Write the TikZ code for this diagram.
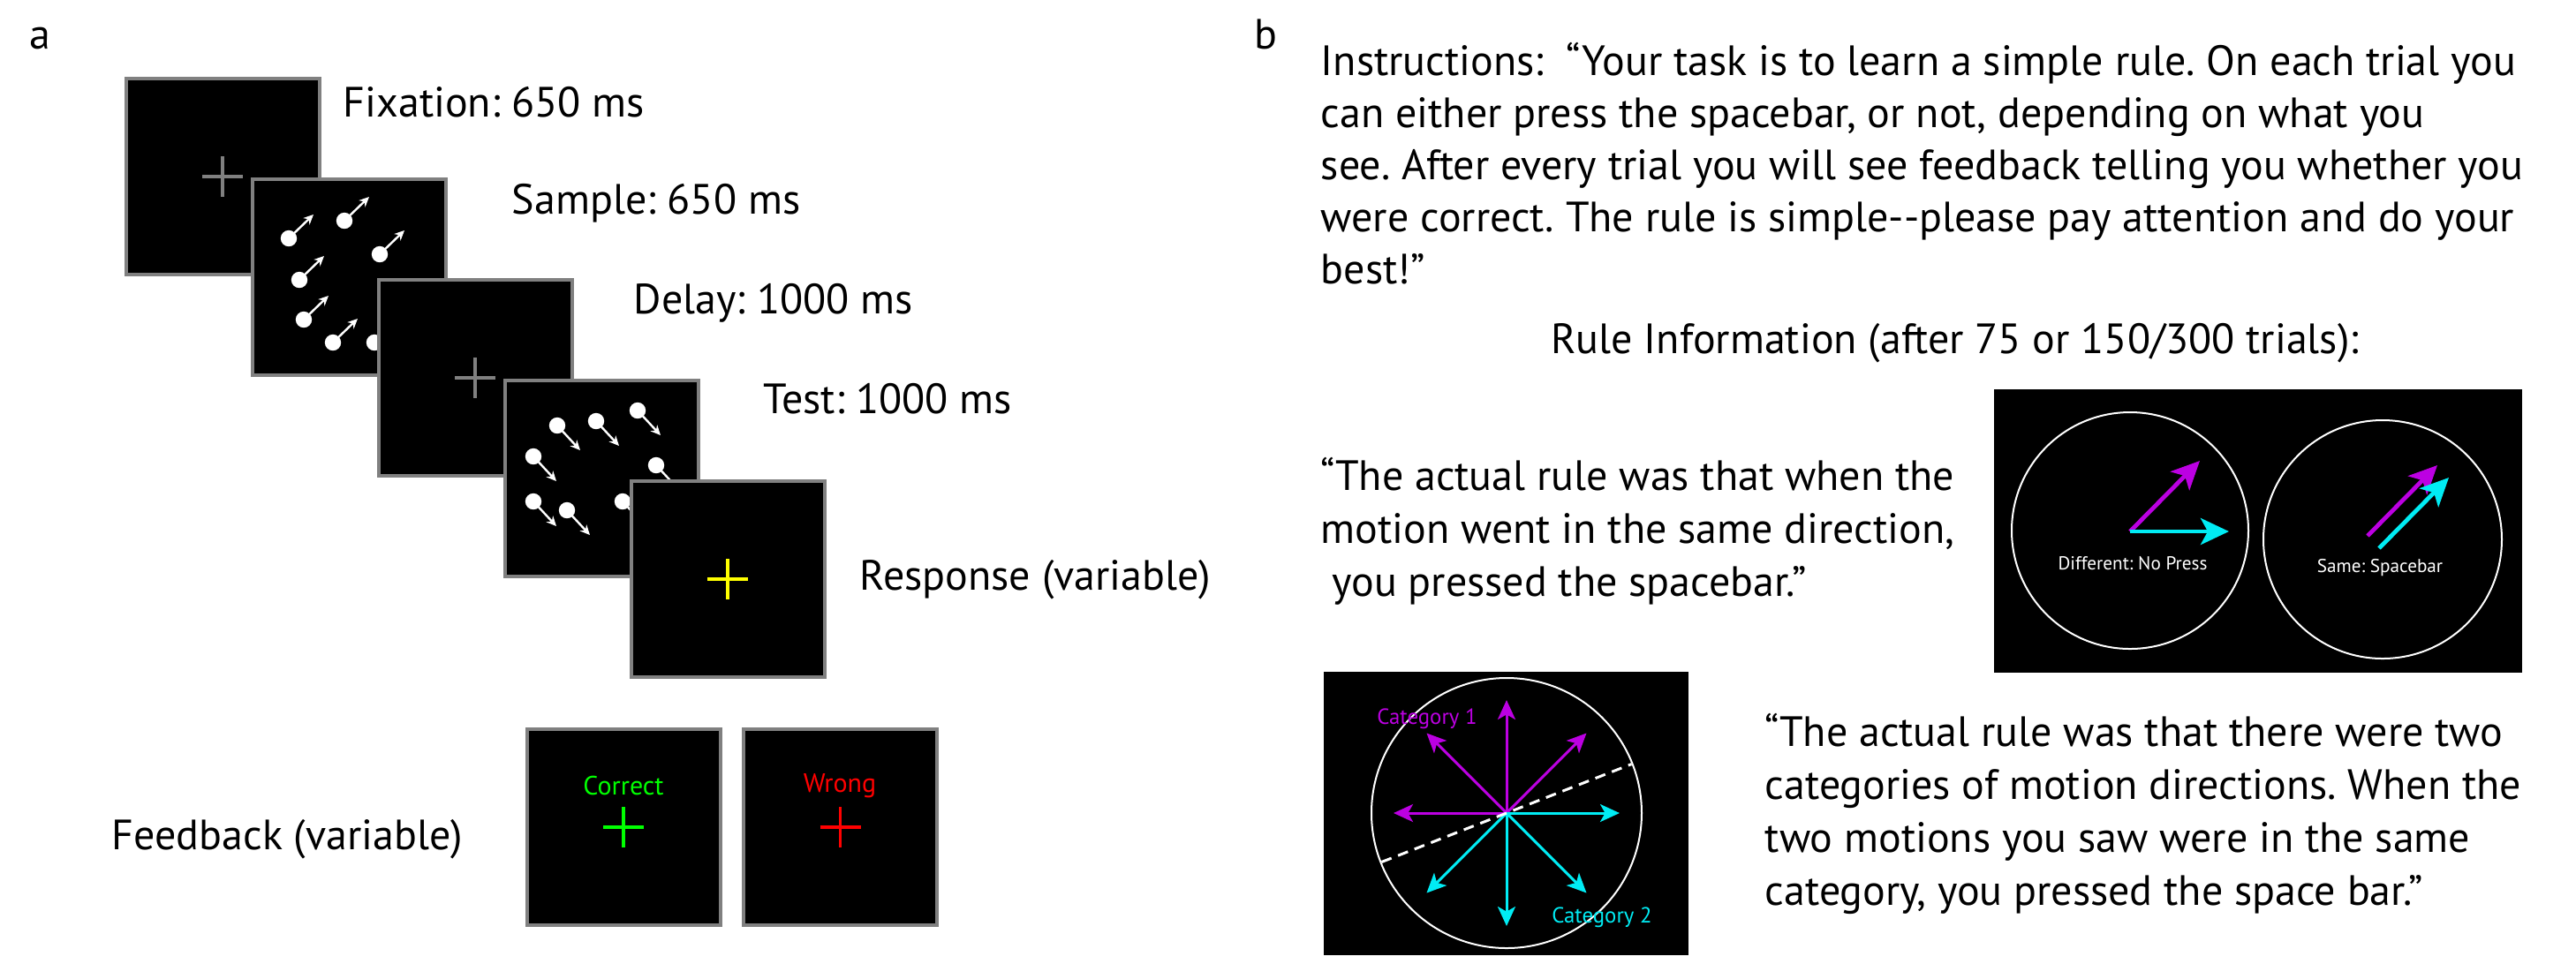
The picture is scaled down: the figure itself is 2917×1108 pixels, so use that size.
\documentclass[tikz,border=0pt]{standalone}
\usepackage{fontspec}
\setmainfont{PT Sans}
\usepackage{tikz}
\usetikzlibrary{positioning,arrows.meta}
\frenchspacing

\definecolor{framegray}{HTML}{808080}
\definecolor{catpurple}{HTML}{BC00E2}
\definecolor{catcyan}{HTML}{00ECF4}
\definecolor{fbgreen}{HTML}{00FF00}
\definecolor{fbred}{HTML}{FF0000}
\definecolor{fbyellow}{HTML}{FFFF00}

\begin{document}
\begin{tikzpicture}[x=0.25pt,y=-0.25pt,>=stealth,node distance=28.5pt and 35.75pt,on grid]
\tikzstyle{screen}=[draw=framegray,fill=black,line width=1pt,minimum width=54.75pt,minimum height=55.5pt,inner sep=0pt]
\tikzstyle{blackbox}=[fill=black,inner sep=0pt]
\tikzstyle{timing}=[anchor=base west,inner sep=0pt,font=\fontsize{12}{14.75}\selectfont]
% multi-line text: base anchor sits on the last line
\tikzstyle{bodytext}=[anchor=base west,inner sep=0pt,align=left,font=\fontsize{12}{15}\selectfont]
\tikzstyle{fixcross}=[line width=0.9pt]
\tikzstyle{movdot}=[white,line width=0.6pt,-{Stealth[length=2.8pt,width=2.6pt]}]
\tikzstyle{dirarrow}=[line width=0.75pt,-{Stealth[length=5.5pt,width=5pt,inset=1.4pt]}]
\tikzstyle{bigarrow}=[line width=1.2pt,-{Stealth[length=8pt,width=7.5pt,inset=2pt]}]
\tikzstyle{ring}=[draw=white,line width=0.5pt]
\tikzstyle{smalltext}=[text=white,inner sep=0pt,font=\fontsize{5.3}{6}\selectfont]
\tikzstyle{cattext}=[inner sep=0pt,font=\fontsize{6.2}{7}\selectfont]
\tikzstyle{fbtext}=[inner sep=0pt,font=\fontsize{7.5}{9}\selectfont]

\useasboundingbox (0,0) rectangle (2917,1108);

% a: trial sequence
\node[timing] (la) at (33,55) {a};

\node[screen] (fix) at (252,200) {};
\draw[fixcross,framegray] (fix.center) +(-23,0) -- +(23,0) +(0,-23) -- +(0,23);
\node[timing] (lfix) at (388,132) {Fixation: 650 ms};

\node[screen,below right=of fix] (sample) {};
\foreach \u/\v in {327/270,390/250,430/288,339/317,344/362,377/388,424/388}
  {\fill[white] (\u,\v) circle (2.3pt); \draw[movdot] (\u,\v) -- ++(28,-27);}
\node[timing] (lsample) at (579,242) {Sample: 650 ms};

\node[screen,below right=of sample] (delay) {};
\draw[fixcross,framegray] (delay.center) +(-23,0) -- +(23,0) +(0,-23) -- +(0,23);
\node[timing] (ldelay) at (717,355) {Delay: 1000 ms};

\node[screen,below right=of delay] (test) {};
\foreach \u/\v in {631/482,675/477,722/465,604/517,743/527,604/568,642/578,705/568}
  {\fill[white] (\u,\v) circle (2.3pt); \draw[movdot] (\u,\v) -- ++(26,28);}
\node[timing] (ltest) at (864,468) {Test: 1000 ms};

\node[screen,below right=of test] (resp) {};
\draw[fixcross,fbyellow] (resp.center) +(-23,0) -- +(23,0) +(0,-23) -- +(0,23);
\node[timing] (lresp) at (973,668) {Response (variable)};

% feedback
\node[timing] (lfb) at (126,962) {Feedback (variable)};
\node[screen] (correct) at (706,937) {};
\node[screen,right=61.4pt of correct] (wrong) {};
\node[fbtext,text=fbgreen] (tcorrect) at (706,890) {Correct};
\draw[fixcross,fbgreen] (correct.center) +(-23,0) -- +(23,0) +(0,-23) -- +(0,23);
\node[fbtext,text=fbred] (twrong) at (951,890) {Wrong};
\draw[fixcross,fbred] (wrong.center) +(-23,0) -- +(23,0) +(0,-23) -- +(0,23);

% b: instructions
\node[timing] (lb) at (1420,55) {b};
\node[bodytext,font=\fontsize{12}{14.75}\selectfont] (instr) at (1495,321) {Instructions:\ \ “Your task is to learn a simple rule. On each trial you\\
can either press the spacebar, or not, depending on what you\\
see. After every trial you will see feedback telling you whether you\\
were correct. The rule is simple-{}-please pay attention and do your\\
best!”};
\node[timing] (rinfo) at (1756,400) {Rule Information (after 75 or 150/300 trials):};

\node[bodytext] (quote1) at (1495,675) {“The actual rule was that when the\\
motion went in the same direction,\\
\ you pressed the spacebar.”};

% same / different
\node[blackbox,minimum width=149.5pt,minimum height=80.25pt] (rulebox) at (2557,601.5) {};
\draw[ring] (2412,601) circle (33.5pt);
\draw[ring] (2698,611) circle (33.75pt);
\draw[bigarrow,catpurple] (2412,602) -- (2491,522);
\draw[bigarrow,catcyan] (2412,602) -- (2524,602);
\node[smalltext] (tdiff) at (2415,638) {Different: No Press};
\draw[bigarrow,catpurple] (2681,607) -- (2760,527);
\draw[bigarrow,catcyan] (2694,621) -- (2773,541);
\node[smalltext] (tsame) at (2695,643) {Same: Spacebar};

% categories
\node[blackbox,minimum width=103.25pt,minimum height=80.25pt] (catbox) at (1705.5,921.5) {};
\coordinate (catc) at (1706,921);
\draw[ring] (catc) circle (38.25pt);
\foreach \a in {-45,-90,-135,180}
  \draw[dirarrow,catpurple] (catc) -- +(\a:128);
\foreach \a in {0,45,90,135}
  \draw[dirarrow,catcyan] (catc) -- +(\a:128);
\draw[white,line width=0.75pt,dash pattern=on 3pt off 2pt] (catc) +(158.6:152) -- +(-21.4:152);
\node[cattext,text=catpurple] (tcat1) at (1616,814) {Category 1};
\node[cattext,text=catcyan] (tcat2) at (1814,1039) {Category 2};

\node[bodytext] (quote2) at (1998,1025) {“The actual rule was that there were two\\
categories of motion directions. When the\\
two motions you saw were in the same\\
category, you pressed the space bar.”};
\end{tikzpicture}
\end{document}
